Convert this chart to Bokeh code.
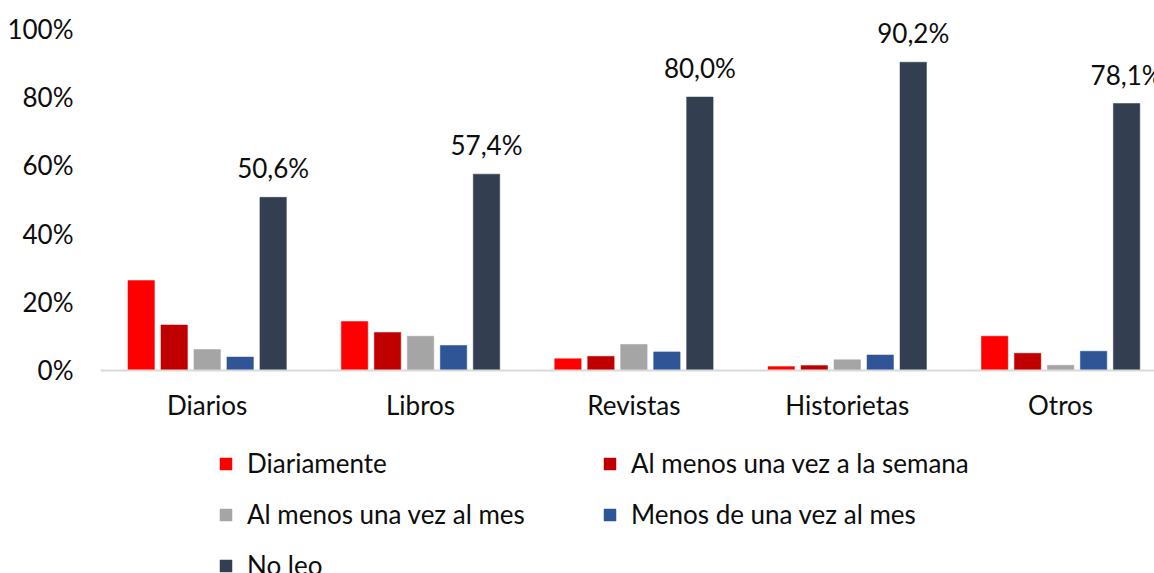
from bokeh.plotting import figure
from bokeh.models import (ColumnDataSource, Range1d, FixedTicker, PrintfTickFormatter,
                          Legend, LegendItem)
from bokeh.core.properties import value
from bokeh.transform import dodge
from bokeh.embed import file_html
from bokeh.resources import INLINE

categories = ["Diarios", "Libros", "Revistas", "Historietas", "Otros"]
series_names = ["Diariamente", "Al menos una vez a la semana", "Al menos una vez al mes",
                "Menos de una vez al mes", "No leo"]
diariamente = [26.2, 14.2, 3.3, 1.0, 9.9]
semana = [13.2, 11.0, 4.0, 1.3, 4.9]
mes = [6.0, 9.9, 7.5, 3.0, 1.4]
menos_mes = [3.8, 7.2, 5.3, 4.4, 5.5]
no_leo = [50.6, 57.4, 80.0, 90.2, 78.1]
series_values = [diariamente, semana, mes, menos_mes, no_leo]
colors = ["#FF0000", "#C00000", "#A5A5A5", "#2F5597", "#333F50"]
y_ticks = [0, 20, 40, 60, 80, 100]

FONT = "Lato"
FS = "26px"
TXT = "#0d0d0d"

pos = [i + 0.5 for i in range(len(categories))]
data = {"pos": pos, "cat": categories}
for k, vals in enumerate(series_values):
    data[f"s{k}"] = vals
data["lbl"] = [f"{v:.1f}%".replace(".", ",") for v in no_leo]
src = ColumnDataSource(data)

p = figure(width=1154, height=573, output_backend="svg", toolbar_location=None,
           x_range=Range1d(0, 4.94), y_range=Range1d(-59.64, 108.29),
           min_border_left=100, min_border_right=0, min_border_top=0, min_border_bottom=0)
p.outline_line_color = None
p.xgrid.visible = False
p.ygrid.visible = False

step = 0.1546
bw = 0.124
renderers = []
for k in range(5):
    r = p.vbar(x=dodge("pos", (k - 2) * step, range=p.x_range), top=f"s{k}", width=bw,
               source=src, fill_color=colors[k], line_color=colors[k], line_width=0.5)
    renderers.append(r)

p.text(x=dodge("pos", 2 * step, range=p.x_range), y="s4", text="lbl", source=src,
       text_font=value(FONT), text_font_size=FS, text_color=TXT,
       text_align="center", text_baseline="alphabetic", y_offset=-29)

# x axis, drawn at the zero line
xa = p.xaxis[0]
xa.fixed_location = 0
xa.ticker = FixedTicker(ticks=pos)
xa.major_label_overrides = {pv: c for pv, c in zip(pos, categories)}
xa.axis_line_color = "#D9D9D9"
xa.axis_line_width = 2
xa.major_tick_line_color = None
xa.minor_tick_line_color = None
xa.major_tick_out = 0
xa.major_tick_in = 0
xa.major_label_standoff = 19
xa.major_label_text_font = FONT
xa.major_label_text_font_size = FS
xa.major_label_text_color = TXT

# y axis
ya = p.yaxis[0]
ya.ticker = FixedTicker(ticks=y_ticks)
ya.formatter = PrintfTickFormatter(format="%d%%")
ya.axis_line_color = None
ya.major_tick_line_color = None
ya.minor_tick_line_color = None
ya.major_tick_out = 0
ya.major_tick_in = 0
ya.major_label_standoff = 27
ya.major_label_text_font = FONT
ya.major_label_text_font_size = FS
ya.major_label_text_color = TXT

items = [LegendItem(label=n, renderers=[r]) for n, r in zip(series_names, renderers)]
legend = Legend(items=items, location=(118, -8), orientation="horizontal", ncols=2,
                glyph_width=15, glyph_height=15, label_standoff=14, label_width=336,
                label_height=20, spacing=19, padding=0, margin=0,
                border_line_color=None, background_fill_alpha=0,
                label_text_font=FONT, label_text_font_size=FS, label_text_color=TXT)
p.add_layout(legend, "center")

open("out.html", "w").write(file_html(p, INLINE))
